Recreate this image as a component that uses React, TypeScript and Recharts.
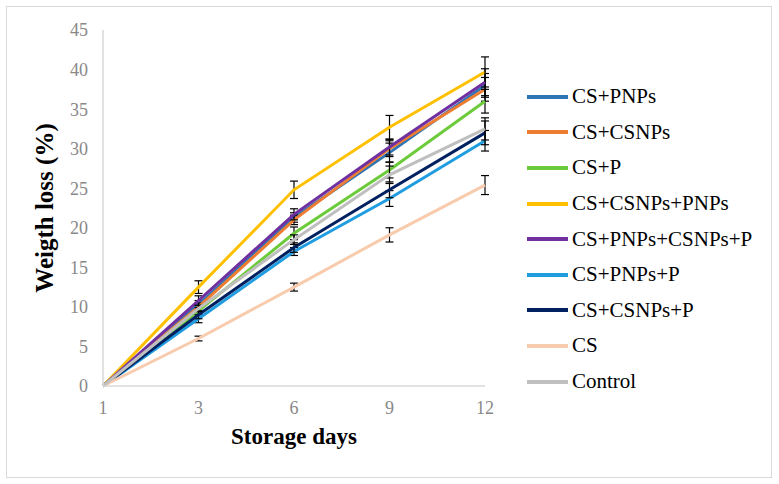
import { LineChart, Line, XAxis, YAxis, Legend, ErrorBar, Label } from 'recharts';

const days = ['1', '3', '6', '9', '12'];
const yTicks = [0, 5, 10, 15, 20, 25, 30, 35, 40, 45];

// weight loss (%) per treatment
const csPnps = [0, 10.3, 21.3, 29.5, 38.0];
const csCsnps = [0, 10.0, 21.0, 30.0, 37.5];
const csP = [0, 9.5, 19.3, 27.3, 36.0];
const csCsnpsPnps = [0, 12.5, 24.8, 32.7, 39.7];
const csPnpsCsnpsP = [0, 10.8, 21.7, 30.2, 38.4];
const csPnpsP = [0, 8.5, 17.0, 23.7, 31.0];
const csCsnpsP = [0, 9.0, 17.5, 24.8, 32.0];
const cs = [0, 6.0, 12.5, 19.1, 25.4];
const control = [0, 9.8, 18.5, 26.7, 32.5];

// standard deviations
const csPnpsErr = [0, 0.5, 0.6, 1.2, 1.5];
const csCsnpsErr = [0, 0.5, 0.6, 1.0, 1.5];
const csPErr = [0, 0.4, 0.8, 1.0, 1.5];
const csCsnpsPnpsErr = [0, 0.8, 1.1, 1.5, 1.9];
const csPnpsCsnpsPErr = [0, 0.6, 0.7, 1.0, 1.7];
const csPnpsPErr = [0, 0.5, 0.5, 1.0, 1.3];
const csCsnpsPErr = [0, 0.5, 0.6, 1.0, 1.5];
const csErr = [0, 0.3, 0.5, 0.9, 1.2];
const controlErr = [0, 0.4, 0.6, 1.1, 1.4];

const series = [
  { key: 'CS+PNPs', values: csPnps, err: csPnpsErr, color: '#2E75B6' },
  { key: 'CS+CSNPs', values: csCsnps, err: csCsnpsErr, color: '#ED7D31' },
  { key: 'CS+P', values: csP, err: csPErr, color: '#6CCB3A' },
  { key: 'CS+CSNPs+PNPs', values: csCsnpsPnps, err: csCsnpsPnpsErr, color: '#FFC000' },
  { key: 'CS+PNPs+CSNPs+P', values: csPnpsCsnpsP, err: csPnpsCsnpsPErr, color: '#7030A0' },
  { key: 'CS+PNPs+P', values: csPnpsP, err: csPnpsPErr, color: '#1F9DE0' },
  { key: 'CS+CSNPs+P', values: csCsnpsP, err: csCsnpsPErr, color: '#002060' },
  { key: 'CS', values: cs, err: csErr, color: '#F8CBAD' },
  { key: 'Control', values: control, err: controlErr, color: '#BFBFBF' },
];

const data = days.map((day, i) => {
  const row: Record<string, number | string> = { day };
  series.forEach((s) => {
    row[s.key] = s.values[i];
    row[s.key + '_err'] = s.err[i];
  });
  return row;
});

const font = "'Liberation Serif', 'Times New Roman', 'DejaVu Serif', serif";

function LegendBox() {
  return (
    <div style={{ fontFamily: font }}>
      {series.map((s) => (
        <div key={s.key} style={{ display: 'flex', alignItems: 'center', height: 35.6 }}>
          <div style={{ width: 41, height: 4, background: s.color, marginRight: 4 }} />
          <span style={{ fontFamily: font, fontSize: 21, color: '#000', whiteSpace: 'nowrap' }}>{s.key}</span>
        </div>
      ))}
    </div>
  );
}

export default function App() {
  return (
    <div style={{ position: 'absolute', left: 0, top: 0, width: 779, height: 484, background: '#fff' }}>
      <div
        style={{
          position: 'absolute',
          left: 6,
          top: 6,
          width: 764,
          height: 470,
          border: '1.5px solid #d9d9d9',
        }}
      />
      <LineChart
        width={779}
        height={484}
        data={data}
        margin={{ top: 30, right: 294, bottom: 0, left: 0 }}
        style={{ fontFamily: font, position: 'absolute', left: 0, top: 0 }}
      >
        <XAxis
          dataKey="day"
          stroke="#d9d9d9"
          strokeWidth={1.5}
          tickLine={false}
          tickSize={0}
          tickMargin={15}
          tick={{ fill: '#888', fontSize: 18, fontFamily: font }}
          height={98}
        >
          <Label
            value="Storage days"
            position="insideTop"
            offset={42}
            style={{ fontWeight: 'bold', fontSize: 23, fill: '#000', fontFamily: font }}
          />
        </XAxis>
        <YAxis
          domain={[0, 45]}
          ticks={yTicks}
          stroke="#d9d9d9"
          strokeWidth={1.5}
          tickLine={false}
          tickSize={0}
          tickMargin={15}
          tick={{ fill: '#888', fontSize: 18, fontFamily: font }}
          width={103}
        >
          <Label
            value="Weigth loss (%)"
            angle={-90}
            position="insideLeft"
            offset={44}
            style={{ fontWeight: 'bold', fontSize: 25, fill: '#000', textAnchor: 'middle', fontFamily: font }}
          />
        </YAxis>
        <Legend
          layout="vertical"
          verticalAlign="middle"
          align="center"
          content={() => <LegendBox />}
          wrapperStyle={{ left: 527, top: 79, width: 250 }}
        />
        {series.map((s) => (
          <Line
            key={s.key}
            type="linear"
            dataKey={s.key}
            stroke={s.color}
            strokeWidth={3}
            dot={false}
            activeDot={false}
            isAnimationActive={false}
          >
            <ErrorBar dataKey={s.key + '_err'} width={4} stroke="#000" strokeWidth={1.2} direction="y" />
          </Line>
        ))}
      </LineChart>
    </div>
  );
}
